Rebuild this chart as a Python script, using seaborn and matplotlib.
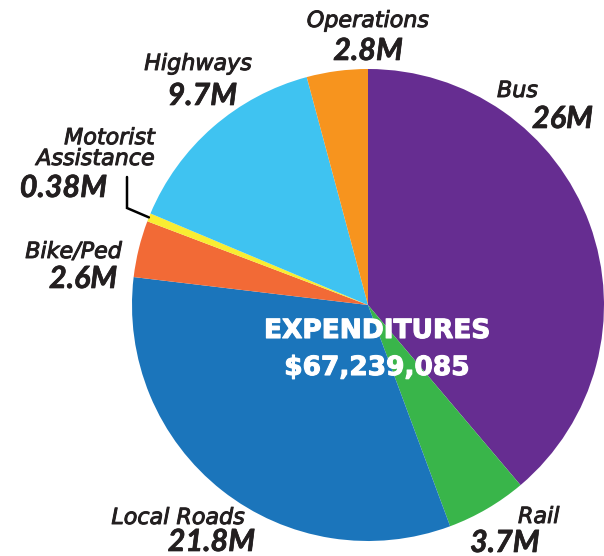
"""Expenditures pie chart recreated with seaborn/matplotlib."""

import os

import matplotlib
matplotlib.use("Agg")
import matplotlib.pyplot as plt
import matplotlib.patheffects as pe
from matplotlib import font_manager as fm
import seaborn as sns
import numpy as np

# ---- data ---------------------------------------------------------------
categories = ["Bus", "Rail", "Local Roads", "Bike/Ped",
              "Motorist Assistance", "Highways", "Operations"]
values = [26.0, 3.7, 21.8, 2.6, 0.38, 9.7, 2.8]
value_labels = ["26M", "3.7M", "21.8M", "2.6M", "0.38M", "9.7M", "2.8M"]
name_labels = ["Bus", "Rail", "Local Roads", "Bike/Ped",
               "Motorist\nAssistance", "Highways", "Operations"]
colors = ["#662d91", "#39b54a", "#1b75bb", "#f26a36",
          "#f9ed32", "#3fc3f1", "#f7941e"]
title_label = "EXPENDITURES"
total_label = "$67,239,085"

W, H = 604, 556
CX, CY, R = 368, 305, 236
TEXT = "#231f20"


def px(x, y):
    """Pixel coordinates -> figure fraction."""
    return x / W, 1 - y / H


def value_font(size):
    """Lato Bold Italic picked by file name, else DejaVu bold oblique."""
    files = fm.findSystemFonts() + [f.fname for f in fm.fontManager.ttflist]
    for fname in files:
        base = os.path.basename(fname).lower().replace("-", "").replace("_", "")
        if "lato" in base and "bolditalic" in base and not any(
                s in base for s in ("semi", "extra", "ultra", "demi")):
            return fm.FontProperties(fname=fname, size=size), False
    return fm.FontProperties(family="DejaVu Sans", style="italic",
                             weight="bold", size=size * 0.86), False


def main() -> None:
    sns.set_theme(style="white")
    plt.rcParams["font.family"] = ["DejaVu Sans"]
    fig = plt.figure(figsize=(W / 100, H / 100), dpi=100)
    ax = fig.add_axes([(CX - R) / W, (H - CY - R) / H, 2 * R / W, 2 * R / H])
    palette = sns.color_palette(colors)
    wedges, _ = ax.pie(values, colors=palette, startangle=90, counterclock=False,
                       radius=1, wedgeprops=dict(linewidth=0))
    ax.set_xlim(-1, 1)
    ax.set_ylim(-1, 1)
    ax.set_aspect("equal")
    ax.axis("off")

    # centre text
    heavy_white = [pe.withStroke(linewidth=0.8, foreground="white")]
    fig.text(*px(377, 338), title_label, ha="center", va="baseline",
             color="white", fontsize=19, fontweight="bold",
             path_effects=heavy_white)
    fig.text(*px(377, 375), total_label, ha="center", va="baseline",
             color="white", fontsize=19, fontweight="bold",
             path_effects=heavy_white)

    # (name pos, name ha, value pos, value ha) in pixels, baselines
    label_pos = {
        "Bus": ((497, 97), "left", (532, 128), "left"),
        "Rail": ((518, 523), "left", (470, 552), "left"),
        "Local Roads": ((245, 524), "right", (255, 551), "right"),
        "Bike/Ped": ((122, 258), "right", (117, 288), "right"),
        "Motorist Assistance": ((155, 165), "right", (107, 197), "right"),
        "Highways": ((252, 70), "right", (237, 105), "right"),
        "Operations": ((368, 27), "center", (368, 60), "center"),
    }
    heavy_text = [pe.withStroke(linewidth=0.7, foreground=TEXT)]
    vfont, _ = value_font(22)
    for cat, name, val in zip(categories, name_labels, value_labels):
        (nx, ny), nha, (vx, vy), vha = label_pos[cat]
        fig.text(*px(nx, ny), name, ha=nha, va="baseline", color=TEXT,
                 fontsize=16, style="italic", linespacing=1.05,
                 multialignment="right", path_effects=heavy_text)
        fig.text(*px(vx, vy), val, ha=vha, va="baseline", color=TEXT,
                 fontproperties=vfont,
                 path_effects=[pe.withStroke(linewidth=0.5, foreground=TEXT)])

    # leader line for the thin Motorist Assistance wedge
    w = wedges[categories.index("Motorist Assistance")]
    mid = np.deg2rad((w.theta1 + w.theta2) / 2)
    ex, ey = np.cos(mid), np.sin(mid)
    elbow = ((127 - CX) / R, (CY - 208) / R)
    top = ((127 - CX) / R, (CY - 177) / R)
    ax.plot([ex, elbow[0], top[0]], [ey, elbow[1], top[1]], color="black",
            linewidth=1.8, clip_on=False, solid_joinstyle="miter")

    fig.savefig("out.png", dpi=100)
    plt.close(fig)


if __name__ == "__main__":
    main()
